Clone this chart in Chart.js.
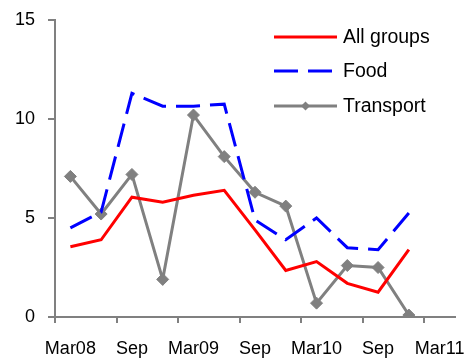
<!DOCTYPE html>
<html>
<head>
<meta charset="utf-8">
<script src="https://cdn.jsdelivr.net/npm/chart.js@4.4.1/dist/chart.umd.min.js"></script>
<style>
html,body{margin:0;padding:0;background:#fff;}
canvas{display:block;}
</style>
</head>
<body>
<canvas id="c" width="473" height="362"></canvas>
<script>
// Quarterly categories, Mar08 .. Mar11 (labels shown every second quarter)
const categories = ['Mar08','Jun08','Sep08','Dec08','Mar09','Jun09','Sep09','Dec09','Mar10','Jun10','Sep10','Dec10','Mar11'];
const tickLabels = ['Mar08','','Sep','','Mar09','','Sep','','Mar10','','Sep','','Mar11'];
const allGroups = [3.55, 3.9, 6.05, 5.8, 6.15, 6.4, 4.4, 2.35, 2.8, 1.7, 1.25, 3.4];
const food      = [4.5, 5.3, 11.3, 10.65, 10.65, 10.75, 4.9, 3.9, 5.0, 3.5, 3.4, 5.25];
const transport = [7.1, 5.2, 7.2, 1.9, 10.2, 8.1, 6.3, 5.6, 0.7, 2.6, 2.5, 0.1];
const seriesNames = ['All groups','Food','Transport'];
const yTicks = [0, 5, 10, 15];

const FONT = '"Liberation Sans", Arial, sans-serif';
const AXIS = '#808080';

const sideLegend = {
  id: 'sideLegend',
  afterDraw(chart) {
    const ctx = chart.ctx;
    const x0 = 274, x1 = 337, tx = 343;
    const ys = [37, 71, 106];
    chart.data.datasets.forEach((ds, i) => {
      const y = ys[i];
      ctx.save();
      ctx.strokeStyle = ds.borderColor;
      ctx.lineWidth = ds.borderWidth;
      ctx.setLineDash(ds.borderDash || []);
      ctx.beginPath();
      ctx.moveTo(x0, y);
      ctx.lineTo(x1, y);
      ctx.stroke();
      ctx.setLineDash([]);
      if (ds.pointRadius > 0) {
        const r = 4.5;
        ctx.fillStyle = ds.pointBackgroundColor;
        ctx.beginPath();
        const cx = (x0 + x1) / 2;
        ctx.moveTo(cx, y - r); ctx.lineTo(cx + r, y); ctx.lineTo(cx, y + r); ctx.lineTo(cx - r, y);
        ctx.closePath();
        ctx.fill();
      }
      ctx.fillStyle = '#000';
      ctx.font = '19.5px ' + FONT;
      ctx.textBaseline = 'middle';
      ctx.textAlign = 'left';
      ctx.fillText(ds.label, tx, y + 1);
      ctx.restore();
    });
  }
};

new Chart(document.getElementById('c'), {
  type: 'line',
  data: {
    labels: categories,
    datasets: [
      { label: seriesNames[0], data: allGroups, borderColor: '#FF0000', borderWidth: 3, pointRadius: 0, tension: 0 },
      { label: seriesNames[1], data: food, borderColor: '#0000FF', borderWidth: 3, borderDash: [24, 10], pointRadius: 0, tension: 0 },
      { label: seriesNames[2], data: transport, borderColor: '#808080', borderWidth: 3, pointRadius: 6, pointStyle: 'rectRot',
        pointBackgroundColor: '#808080', pointBorderColor: '#808080', pointBorderWidth: 1, tension: 0 }
    ]
  },
  options: {
    responsive: false,
    animation: false,
    devicePixelRatio: 1,
    layout: { padding: { top: 20, right: 18, left: 0, bottom: 0 } },
    plugins: { legend: { display: false }, tooltip: { enabled: false } },
    scales: {
      x: {
        offset: true,
        grid: {
          offset: true,
          drawOnChartArea: false,
          drawTicks: true,
          tickLength: 6,
          lineWidth: 2,
          color: (c) => (c.index !== undefined && c.index % 2 === 0) ? AXIS : 'rgba(0,0,0,0)'
        },
        border: { display: true, color: AXIS, width: 2 },
        ticks: {
          autoSkip: false,
          maxRotation: 0,
          padding: 15,
          color: '#000',
          font: { family: FONT, size: 18 },
          callback: (v, i) => tickLabels[i]
        },
        afterFit: (s) => { s.height = 45; s.paddingLeft = 0; s.paddingRight = 0; }
      },
      y: {
        min: 0, max: 15,
        afterBuildTicks: (s) => { s.ticks = yTicks.map(v => ({ value: v })); },
        grid: { drawOnChartArea: false, drawTicks: true, tickLength: 7, lineWidth: 2, color: AXIS },
        border: { display: true, color: AXIS, width: 2 },
        ticks: { padding: 13, color: '#000', font: { family: FONT, size: 18 } },
        afterFit: (s) => { s.width = 55; s.paddingTop = 0; s.paddingBottom = 0; }
      }
    }
  },
  plugins: [sideLegend]
});
</script>
</body>
</html>
